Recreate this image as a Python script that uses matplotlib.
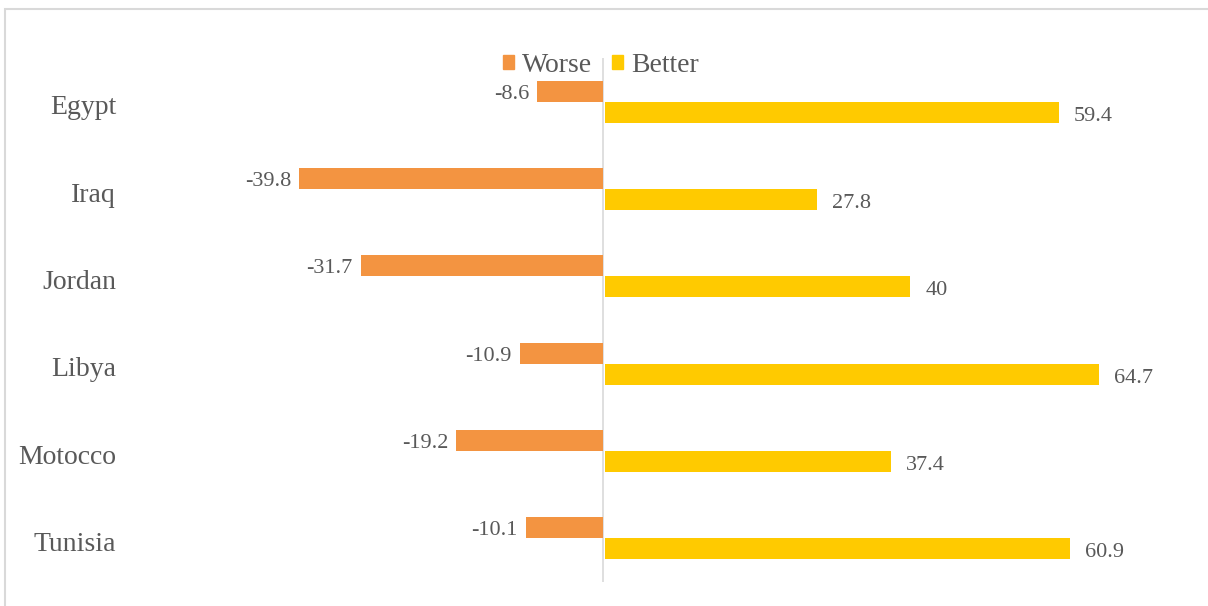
import numpy as np
import matplotlib
matplotlib.use('Agg')
import matplotlib.pyplot as plt
from matplotlib.patches import Patch, Rectangle

countries = ['Egypt', 'Iraq', 'Jordan', 'Libya', 'Motocco', 'Tunisia']
worse = [-8.6, -39.8, -31.7, -10.9, -19.2, -10.1]
better = [59.4, 27.8, 40, 64.7, 37.4, 60.9]
worse_labels = ['-8.6', '-39.8', '-31.7', '-10.9', '-19.2', '-10.1']
better_labels = ['59.4', '27.8', '40', '64.7', '37.4', '60.9']

c_worse = '#F39441'
c_better = '#FFCA00'
txt = '#595959'
plt.rcParams['font.family'] = ['Liberation Serif', 'DejaVu Serif']

W, H = 1208, 606
fig = plt.figure(figsize=(W / 100, H / 100), dpi=100)
# chart border
fig.patches.append(Rectangle((5 / W, -0.1), 1.2, 1 - 9 / H + 0.1, transform=fig.transFigure,
                             fill=False, edgecolor='#D9D9D9', linewidth=1.5))

ax = fig.add_axes([221 / W, 1 - 582 / H, 932 / W, 524 / H])
y = np.arange(len(countries))
h = 0.24
ax.barh(y - h / 2, worse, height=h, color=c_worse, label='Worse')
ax.barh(y + h / 2, better, height=h, left=0.25, color=c_better, label='Better')
ax.axvline(0, color='#D9D9D9', linewidth=1.2, zorder=0)

ax.set_xlim(-50, 72)
ax.set_ylim(5.5, -0.5)
for s in ax.spines.values():
    s.set_visible(False)
ax.set_xticks([])
ax.set_yticks([])

for i in range(len(countries)):
    ax.annotate(worse_labels[i], (worse[i], y[i] - h / 2), xytext=(-8, -3), textcoords='offset pixels',
                ha='right', va='center', fontsize=16, color=txt)
    ax.annotate(better_labels[i], (better[i], y[i] + h / 2), xytext=(17, -4), textcoords='offset pixels',
                ha='left', va='center', fontsize=16, color=txt)
    ax.annotate(countries[i], (0, y[i]), xycoords=('figure fraction', 'data'),
                xytext=(116, -6), textcoords='offset pixels',
                ha='right', va='center', fontsize=20, color=txt)

handles = [Patch(color=c_worse, label='Worse'), Patch(color=c_better, label='Better')]
fig.legend(handles=handles, loc='center', bbox_to_anchor=(601 / W, 1 - 65 / H), ncol=2,
           frameon=False, fontsize=20, handlelength=0.4, handleheight=0.4,
           handletextpad=0.3, columnspacing=0.7, labelcolor=txt, borderpad=0)

fig.savefig('out.png', dpi=100)
